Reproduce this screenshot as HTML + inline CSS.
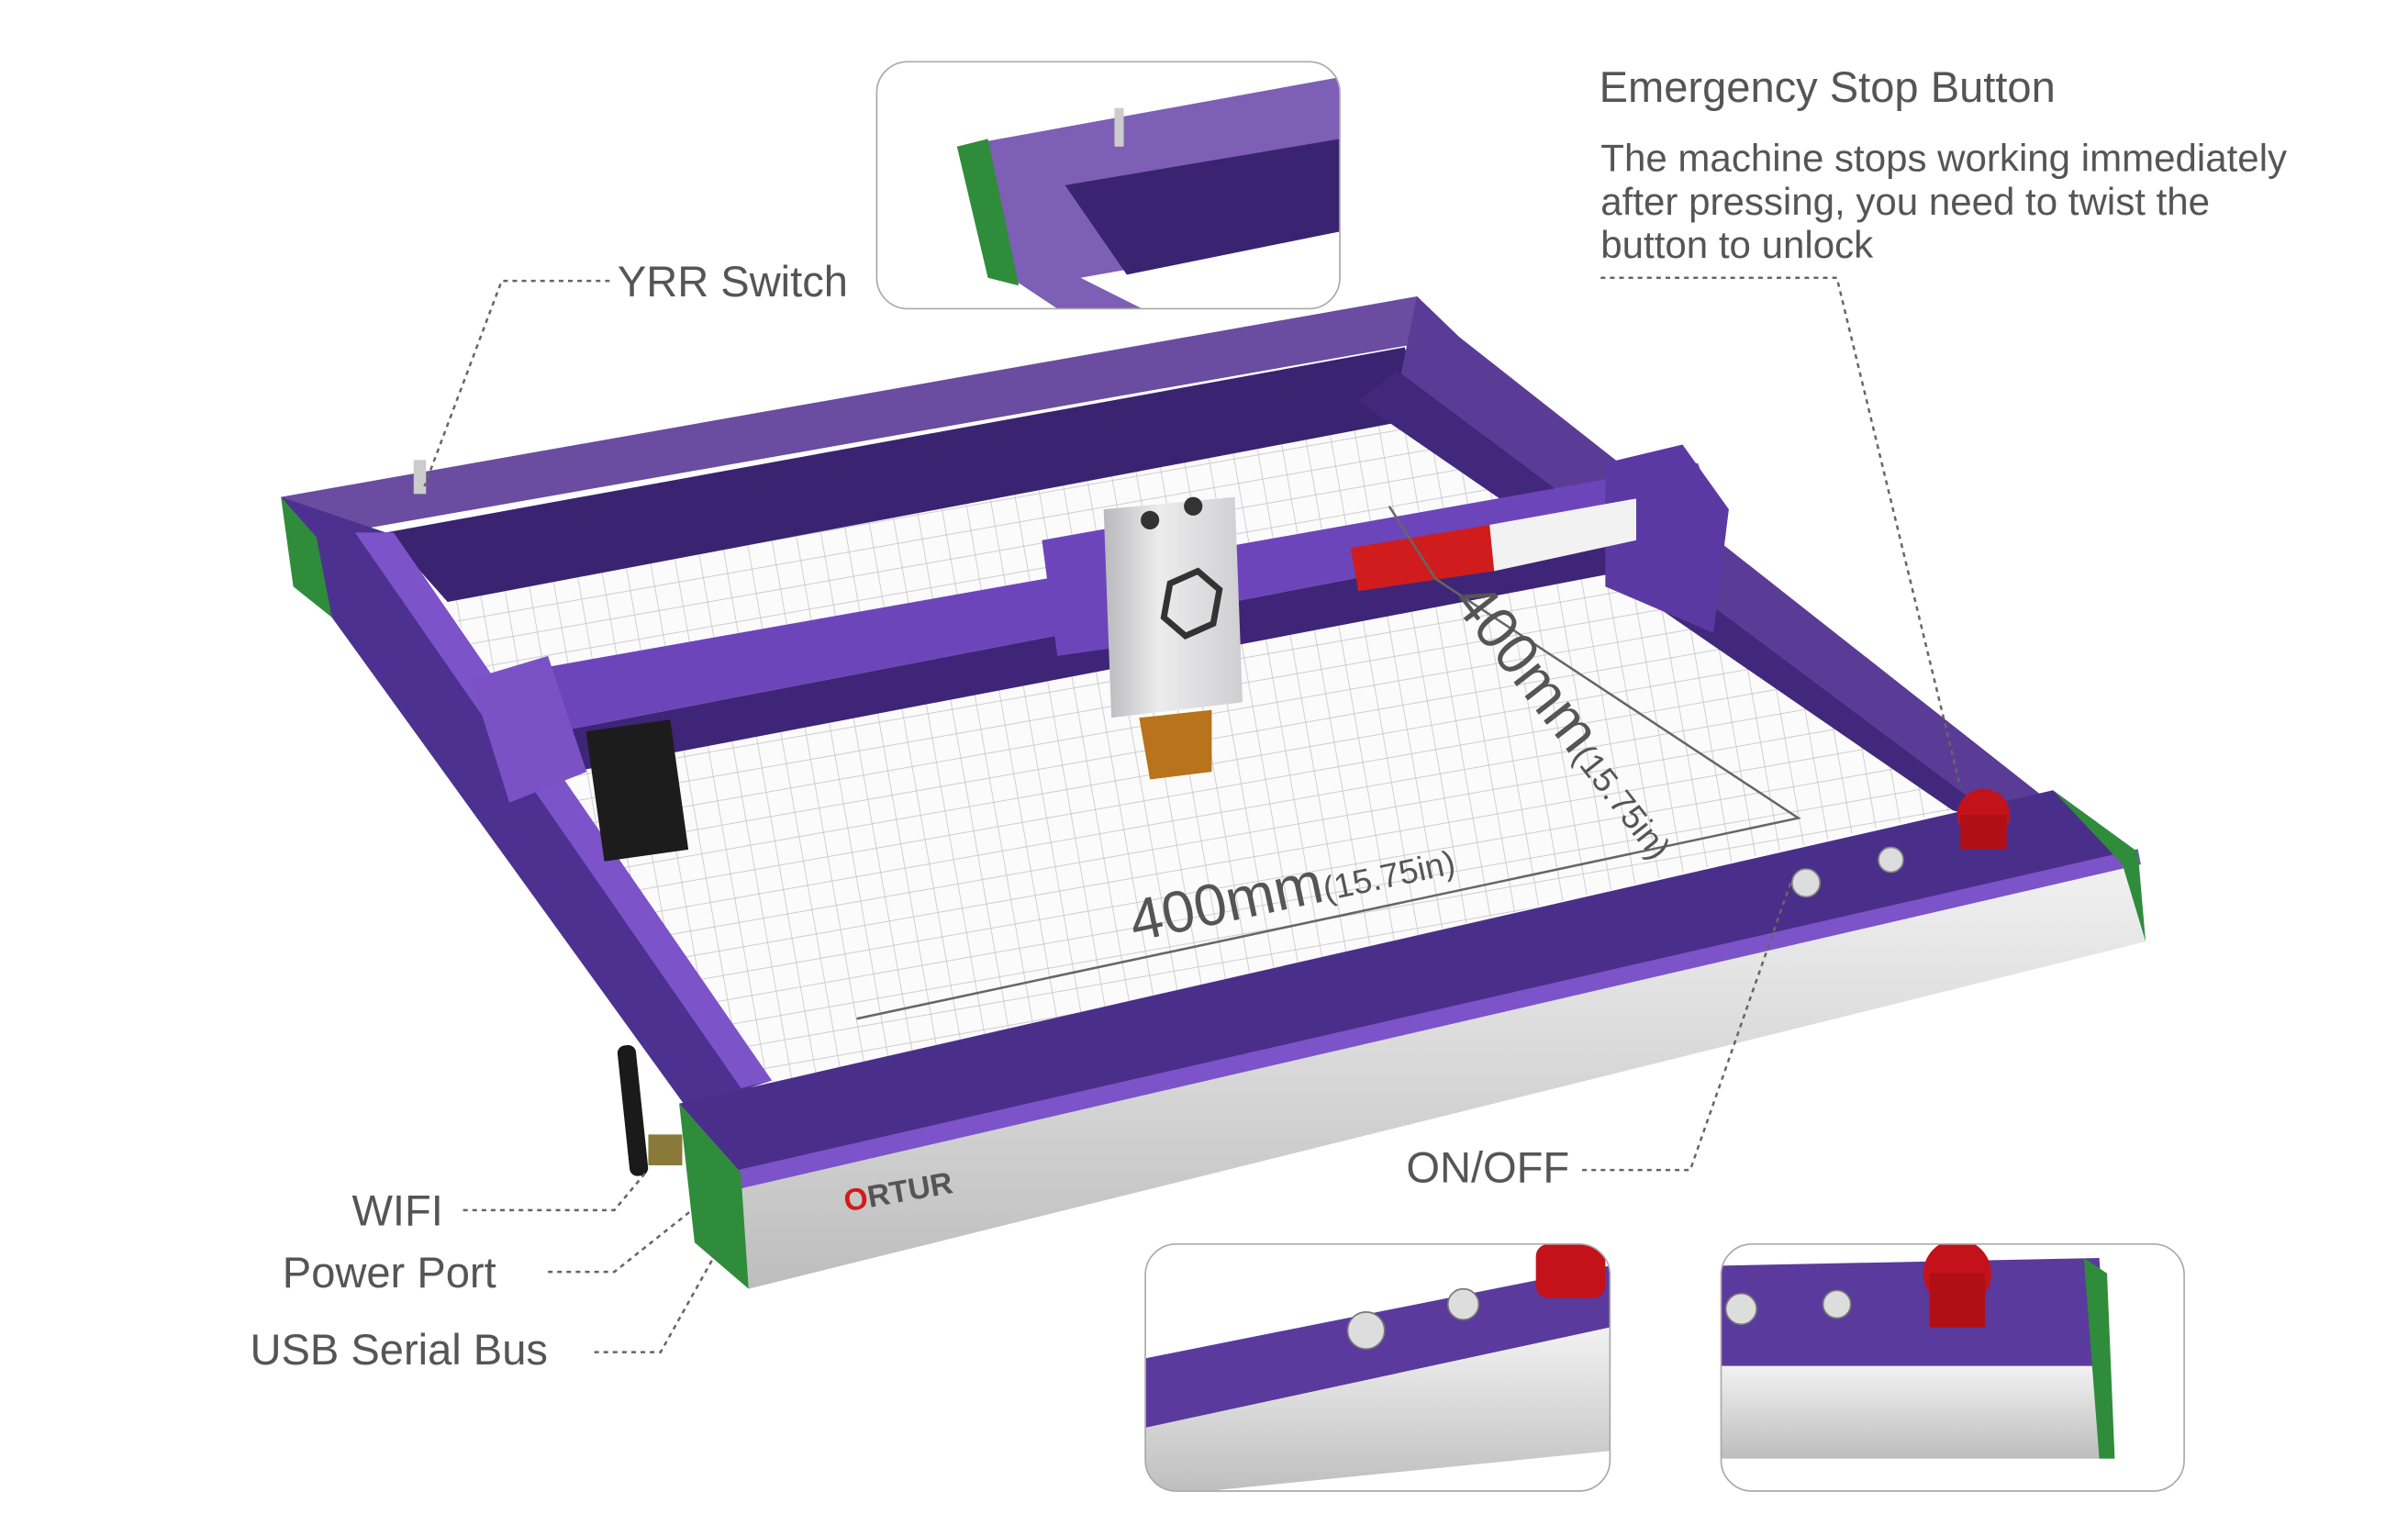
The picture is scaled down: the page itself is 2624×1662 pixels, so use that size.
<!DOCTYPE html>
<html><head><meta charset="utf-8"><style>
html,body{margin:0;padding:0;background:#fff;}
svg{display:block;}
text{font-family:"Liberation Sans",sans-serif;fill:#555;}
</style></head><body>
<svg width="2624" height="1662" viewBox="0 0 1560 988" preserveAspectRatio="none" xmlns="http://www.w3.org/2000/svg">
<defs>
<pattern id="grid" width="16" height="16" patternUnits="userSpaceOnUse" patternTransform="rotate(-10)">
<rect width="16" height="16" fill="#fbfbfb"/><path d="M16 0V16H0" fill="none" stroke="#c8c8cc" stroke-width="1"/></pattern>
<linearGradient id="silver" x1="0" y1="0" x2="0" y2="1"><stop offset="0" stop-color="#f2f2f2"/><stop offset="1" stop-color="#bdbdbd"/></linearGradient>
<linearGradient id="head" x1="0" y1="0" x2="1" y2="0"><stop offset="0" stop-color="#b9b9bd"/><stop offset="0.4" stop-color="#ececec"/><stop offset="1" stop-color="#cfcfd2"/></linearGradient>
<clipPath id="c1"><rect x="568" y="40" width="300" height="160" rx="20"/></clipPath>
<clipPath id="c2"><rect x="742" y="806" width="301" height="160" rx="20"/></clipPath>
<clipPath id="c3"><rect x="1115" y="806" width="300" height="160" rx="20"/></clipPath>
</defs>

<!-- work bed -->
<polygon points="285,385 905,265 1265,525 490,705" fill="url(#grid)"/>
<!-- back rail -->
<polygon points="182,322 918,192 945,218 205,348" fill="#6a4ca0"/>
<polygon points="250,345 910,225 925,270 290,390" fill="#3a2370"/>
<!-- right rail -->
<polygon points="918,192 945,218 1335,525 1300,535 905,255" fill="#5a3c96"/>
<polygon points="905,240 1300,535 1265,525 880,260" fill="#41287c"/>
<!-- left rail -->
<polygon points="182,322 250,345 500,700 445,718 215,400" fill="#4d3190"/>
<polygon points="230,345 255,345 500,700 480,705" fill="#7c53c9"/>
<!-- front rail top -->
<polygon points="440,715 1330,512 1385,552 480,760" fill="#4a2f8a"/>
<!-- front face -->
<polygon points="480,760 1385,552 1390,610 485,835" fill="url(#silver)"/>
<polygon points="478,758 1385,550 1387,560 480,770" fill="#7c53c9"/>
<!-- green corners -->
<polygon points="440,715 480,760 485,835 450,805" fill="#2f8c3a"/>
<polygon points="1330,512 1385,552 1390,610 1375,560" fill="#2f8c3a"/>
<polygon points="182,322 205,348 215,400 190,380" fill="#2f8c3a"/>
<!-- gantry -->
<polygon points="310,440 1100,300 1110,330 330,480" fill="#6d45bb"/>
<polygon points="330,480 1110,330 1105,360 345,505" fill="#3e2577"/>
<polygon points="305,440 355,425 380,500 330,520" fill="#7a52c6"/>
<polygon points="1040,300 1090,288 1120,330 1110,410 1040,380" fill="#5a3aa2"/>
<rect x="385" y="470" width="55" height="85" fill="#1c1c1c" transform="rotate(-8 410 510)"/>
<!-- label on gantry -->
<polygon points="875,355 965,340 968,370 880,383" fill="#d01c1c"/>
<polygon points="965,340 1060,323 1060,350 968,370" fill="#f2f2f2"/>
<!-- head -->
<polygon points="675,350 720,342 720,420 685,425" fill="#6d45bb"/>
<polygon points="715,330 800,322 805,455 720,465" fill="url(#head)"/>
<polygon points="738,465 785,460 785,500 745,505" fill="#b8731c"/>
<circle cx="745" cy="337" r="6" fill="#333"/><circle cx="773" cy="328" r="6" fill="#333"/>
<path d="M758 378l18-8 14 12-4 22-18 8-14-12z" fill="none" stroke="#333" stroke-width="4"/>
<!-- switch post & buttons -->
<rect x="268" y="298" width="8" height="22" fill="#ccc"/>
<circle cx="1285" cy="528" r="17" fill="#c3121a"/><rect x="1270" y="528" width="30" height="22" fill="#b10f16"/>
<circle cx="1170" cy="572" r="9" fill="#ddd" stroke="#888"/><circle cx="1225" cy="557" r="8" fill="#ddd" stroke="#888"/>
<!-- wifi antenna -->
<rect x="404" y="677" width="12" height="85" rx="5" fill="#1a1a1a" transform="rotate(-6 410 720)"/>
<rect x="420" y="735" width="22" height="20" fill="#8a7a3a"/>
<text x="548" y="785" font-size="20" font-weight="bold" fill="#333" transform="rotate(-10 548 785)"><tspan fill="#d01c1c">O</tspan>RTUR</text>
<!-- dimension lines -->
<polyline points="555,660 1165,530 930,375 900,328" fill="none" stroke="#666" stroke-width="1.5"/>
<text x="735" y="610" font-size="38" transform="rotate(-12 735 610)">400mm<tspan font-size="22">(15.75in)</tspan></text>
<text x="940" y="390" font-size="38" transform="rotate(52 940 390)">400mm<tspan font-size="22">(15.75in)</tspan></text>

<!-- insets -->
<rect x="568" y="40" width="300" height="160" rx="20" fill="#fff"/>
<g clip-path="url(#c1)">
<polygon points="620,95 868,50 868,150 700,180 760,210 700,210 640,170" fill="#7d5fb5"/>
<polygon points="690,120 868,90 868,150 730,178" fill="#3a2370"/>
<polygon points="620,95 640,90 660,185 640,180" fill="#2f8c3a"/>
<rect x="722" y="70" width="6" height="25" fill="#ccc"/>
</g>
<rect x="568" y="40" width="300" height="160" rx="20" fill="none" stroke="#aaa" stroke-width="1"/>

<rect x="742" y="806" width="301" height="160" rx="20" fill="#fff"/>
<g clip-path="url(#c2)">
<polygon points="742,880 1043,820 1043,860 742,925" fill="#5b3a9d"/>
<polygon points="742,925 1043,860 1043,940 742,970" fill="url(#silver)"/>
<rect x="995" y="806" width="45" height="35" rx="8" fill="#c3121a"/>
<circle cx="885" cy="862" r="12" fill="#ddd" stroke="#777"/><circle cx="948" cy="845" r="10" fill="#ddd" stroke="#777"/>
</g>
<rect x="742" y="806" width="301" height="160" rx="20" fill="none" stroke="#aaa"/>

<rect x="1115" y="806" width="300" height="160" rx="20" fill="#fff"/>
<g clip-path="url(#c3)">
<polygon points="1115,820 1360,815 1365,885 1115,885" fill="#5b3a9d"/>
<polygon points="1115,885 1365,885 1368,945 1115,945" fill="url(#silver)"/>
<polygon points="1350,815 1365,825 1370,945 1360,945" fill="#2f8c3a"/>
<circle cx="1268" cy="825" r="22" fill="#c3121a"/><rect x="1250" y="825" width="36" height="35" fill="#b10f16"/>
<circle cx="1128" cy="848" r="10" fill="#ddd" stroke="#777"/><circle cx="1190" cy="845" r="9" fill="#ddd" stroke="#777"/>
</g>
<rect x="1115" y="806" width="300" height="160" rx="20" fill="none" stroke="#aaa"/>

<!-- leaders -->
<g fill="none" stroke="#666" stroke-width="1.5" stroke-dasharray="3,3">
<polyline points="395,182 325,182 275,315"/>
<polyline points="1037,180 1190,180 1270,510"/>
<polyline points="1025,758 1095,758 1160,572"/>
<polyline points="300,784 398,784 418,760"/>
<polyline points="355,824 398,824 447,785"/>
<polyline points="385,876 428,876 466,808"/>
</g>

<!-- labels -->
<text x="400" y="192" font-size="28">YRR Switch</text>
<text x="1036" y="66" font-size="28">Emergency Stop Button</text>
<text x="1037" y="111" font-size="25">The machine stops working immediately</text>
<text x="1037" y="139" font-size="25">after pressing, you need to twist the</text>
<text x="1037" y="167" font-size="25">button to unlock</text>
<text x="228" y="794" font-size="28">WIFI</text>
<text x="183" y="834" font-size="28">Power Port</text>
<text x="162" y="884" font-size="28">USB Serial Bus</text>
<text x="911" y="766" font-size="28">ON/OFF</text>
</svg>
</body></html>
